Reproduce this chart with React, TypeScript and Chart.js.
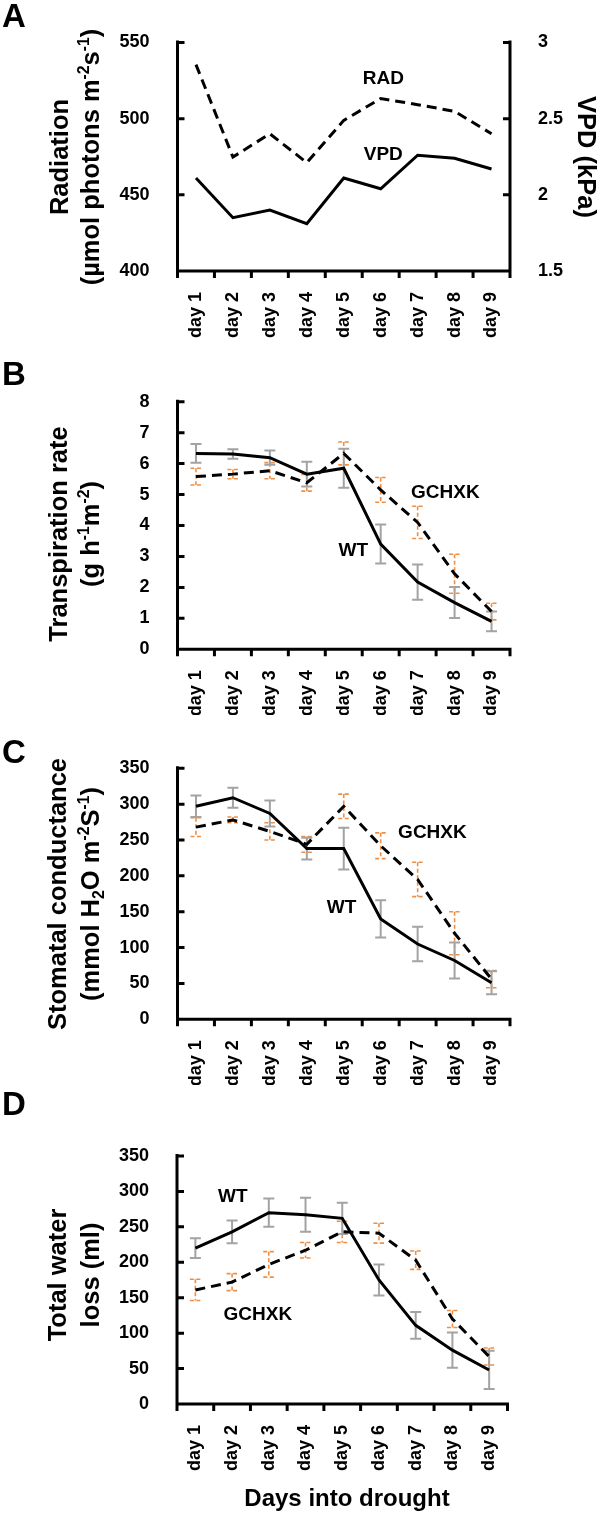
import React, { useEffect, useRef } from 'react';
import { Chart, registerables } from 'chart.js';

Chart.register(...registerables);

const FONT = '"Liberation Sans", Arial, Helvetica, sans-serif';

// ---- categories ----
const days = ['day 1', 'day 2', 'day 3', 'day 4', 'day 5', 'day 6', 'day 7', 'day 8', 'day 9'];

// ---- Panel A ----
const radiation = [535.5, 474.8, 490.1, 471.1, 498.9, 513.2, 509.2, 504.8, 490.1];
const vpd = [2.11, 1.85, 1.9, 1.81, 2.11, 2.04, 2.26, 2.24, 2.17];
const radTicks = [400, 450, 500, 550];
const vpdTicks = [1.5, 2, 2.5, 3];

// ---- Panel B ----
const transWT = [6.33, 6.31, 6.19, 5.66, 5.85, 3.4, 2.17, 1.51, 0.9];
const transWTErr = [0.3, 0.15, 0.23, 0.4, 0.63, 0.63, 0.57, 0.5, 0.32];
const transGX = [5.58, 5.66, 5.77, 5.38, 6.33, 5.15, 4.1, 2.44, 1.22];
const transGXErr = [0.27, 0.15, 0.26, 0.27, 0.37, 0.4, 0.52, 0.63, 0.27];
const transTicks = [0, 1, 2, 3, 4, 5, 6, 7, 8];

// ---- Panel C ----
const condWT = [297, 309, 287, 238, 238, 140, 105, 82, 51];
const condWTErr = [15, 14, 18, 15, 29, 26, 24, 25, 16];
const condGX = [268, 278, 262, 244, 297, 242, 195, 120, 56];
const condGXErr = [13, 4, 12, 11, 17, 18, 24, 30, 12];
const condTicks = [0, 50, 100, 150, 200, 250, 300, 350];

// ---- Panel D ----
const lossWT = [220, 243, 270, 267, 262, 175, 111, 76, 48];
const lossWTErr = [14, 16, 20, 24, 22, 22, 19, 25, 27];
const lossGX = [161, 172, 197, 217, 243, 241, 203, 120, 67];
const lossGXErr = [15, 12, 18, 11, 15, 14, 13, 12, 12];
const lossTicks = [0, 50, 100, 150, 200, 250, 300, 350];

type Seg = { t: string; s?: 'sup' | 'sub' };
type Series = { data: number[]; err?: number[]; dashed: boolean; axis: string };
type Label = { text: string; x: number; y: number; axis: string };
type Title = { segs: Seg[]; x: number; y: number; rot: number; size: number };
type Axis = { min: number; max: number; ticks: number[] };
type Panel = {
  top: number;
  height: number;
  plotTop: number;
  plotBottom: number;
  plotLeft: number;
  plotRight: number;
  letter: string;
  letterY: number;
  series: Series[];
  labels: Label[];
  titles: Title[];
  yLeft: Axis;
  yRight?: Axis;
};

const TS = 25.5;
const UP = -Math.PI / 2;

const panels: Panel[] = [
  {
    top: 0,
    height: 340,
    plotTop: 42.5,
    plotBottom: 271,
    plotLeft: 177.5,
    plotRight: 510,
    letter: 'A',
    letterY: 27,
    series: [
      { data: radiation, dashed: true, axis: 'y' },
      { data: vpd, dashed: false, axis: 'y1' },
    ],
    labels: [
      { text: 'RAD', x: 5.07, y: 526, axis: 'y' },
      { text: 'VPD', x: 5.07, y: 476, axis: 'y' },
    ],
    titles: [
      { segs: [{ t: 'Radiation' }], x: 59, y: 157, rot: UP, size: TS },
      {
        segs: [{ t: '(µmol photons m' }, { t: '-2', s: 'sup' }, { t: 's' }, { t: '-1', s: 'sup' }, { t: ')' }],
        x: 90,
        y: 157,
        rot: UP,
        size: TS,
      },
      { segs: [{ t: 'VPD (kPa)' }], x: 587, y: 157, rot: Math.PI / 2, size: TS },
    ],
    yLeft: { min: 400, max: 550, ticks: radTicks },
    yRight: { min: 1.5, max: 3, ticks: vpdTicks },
  },
  {
    top: 340,
    height: 375,
    plotTop: 401.7,
    plotBottom: 649.3,
    plotLeft: 177.5,
    plotRight: 510,
    letter: 'B',
    letterY: 385,
    series: [
      { data: transGX, err: transGXErr, dashed: true, axis: 'y' },
      { data: transWT, err: transWTErr, dashed: false, axis: 'y' },
    ],
    labels: [
      { text: 'GCHXK', x: 6.75, y: 5.05, axis: 'y' },
      { text: 'WT', x: 4.26, y: 3.18, axis: 'y' },
    ],
    titles: [
      { segs: [{ t: 'Transpiration rate' }], x: 58, y: 534, rot: UP, size: TS },
      {
        segs: [{ t: '(g h' }, { t: '-1', s: 'sup' }, { t: 'm' }, { t: '-2', s: 'sup' }, { t: ')' }],
        x: 90,
        y: 534,
        rot: UP,
        size: TS,
      },
    ],
    yLeft: { min: 0, max: 8, ticks: transTicks },
  },
  {
    top: 715,
    height: 370,
    plotTop: 768.3,
    plotBottom: 1019.3,
    plotLeft: 177.5,
    plotRight: 510,
    letter: 'C',
    letterY: 763,
    series: [
      { data: condGX, err: condGXErr, dashed: true, axis: 'y' },
      { data: condWT, err: condWTErr, dashed: false, axis: 'y' },
    ],
    labels: [
      { text: 'GCHXK', x: 6.4, y: 259.8, axis: 'y' },
      { text: 'WT', x: 3.94, y: 155, axis: 'y' },
    ],
    titles: [
      { segs: [{ t: 'Stomatal conductance' }], x: 57, y: 894, rot: UP, size: TS },
      {
        segs: [
          { t: '(mmol H' },
          { t: '2', s: 'sub' },
          { t: 'O m' },
          { t: '-2', s: 'sup' },
          { t: 'S' },
          { t: '-1', s: 'sup' },
          { t: ')' },
        ],
        x: 90,
        y: 894,
        rot: UP,
        size: TS,
      },
    ],
    yLeft: { min: 0, max: 350, ticks: condTicks },
  },
  {
    top: 1085,
    height: 428,
    plotTop: 1156,
    plotBottom: 1404,
    plotLeft: 177,
    plotRight: 507.5,
    letter: 'D',
    letterY: 1115,
    series: [
      { data: lossGX, err: lossGXErr, dashed: true, axis: 'y' },
      { data: lossWT, err: lossWTErr, dashed: false, axis: 'y' },
    ],
    labels: [
      { text: 'WT', x: 1.02, y: 292, axis: 'y' },
      { text: 'GCHXK', x: 1.7, y: 125.7, axis: 'y' },
    ],
    titles: [
      { segs: [{ t: 'Total water' }], x: 57, y: 1275, rot: UP, size: TS },
      { segs: [{ t: 'loss (ml)' }], x: 90, y: 1275, rot: UP, size: TS },
      { segs: [{ t: 'Days into drought' }], x: 347, y: 1497, rot: 0, size: 24 },
    ],
    yLeft: { min: 0, max: 350, ticks: lossTicks },
  },
];

function drawRich(ctx: CanvasRenderingContext2D, t: Title, offsetY: number) {
  const main = `bold ${t.size}px ${FONT}`;
  const small = `bold ${t.size * 0.62}px ${FONT}`;
  ctx.save();
  ctx.translate(t.x, t.y - offsetY);
  ctx.rotate(t.rot);
  ctx.textAlign = 'left';
  ctx.textBaseline = 'alphabetic';
  ctx.fillStyle = '#000';
  let total = 0;
  const widths = t.segs.map((s) => {
    ctx.font = s.s ? small : main;
    const w = ctx.measureText(s.t).width;
    total += w;
    return w;
  });
  let x = -total / 2;
  const base = t.size * 0.36;
  t.segs.forEach((s, i) => {
    ctx.font = s.s ? small : main;
    let y = base;
    if (s.s === 'sup') y -= t.size * 0.38;
    if (s.s === 'sub') y += t.size * 0.2;
    ctx.fillText(s.t, x, y);
    x += widths[i];
  });
  ctx.restore();
}

const tickFont = { family: FONT, size: 18, weight: 'bold' as const };

function yAxisOptions(a: Axis, position: 'left' | 'right', width: number) {
  return {
    type: 'linear' as const,
    position,
    min: a.min,
    max: a.max,
    afterBuildTicks: (s: any) => {
      s.ticks = a.ticks.map((v) => ({ value: v }));
    },
    grid: { display: false },
    border: { display: false },
    ticks: {
      padding: 20,
      color: '#000',
      font: tickFont,
      callback: (v: any) => String(v),
    },
    afterFit: (s: any) => {
      s.width = width;
    },
  };
}

function PanelChart({ p }: { p: Panel }) {
  const ref = useRef<HTMLCanvasElement>(null);
  useEffect(() => {
    const canvas = ref.current;
    if (!canvas) return;
    const xHeight = p.height - (p.plotBottom - p.top);
    const overlay = {
      id: 'overlay',
      beforeDatasetsDraw(chart: any) {
        const ctx = chart.ctx as CanvasRenderingContext2D;
        const xs = chart.scales.x;
        p.series.forEach((s) => {
          if (!s.err) return;
          const ys = chart.scales[s.axis];
          ctx.save();
          ctx.strokeStyle = s.dashed ? '#EE8F45' : '#A3A3A3';
          ctx.lineWidth = s.dashed ? 1.6 : 2;
          ctx.setLineDash(s.dashed ? [4, 2.5] : []);
          s.data.forEach((v, i) => {
            const e = s.err![i];
            const x = xs.getPixelForValue(i);
            const y1 = ys.getPixelForValue(v + e);
            const y2 = ys.getPixelForValue(v - e);
            ctx.beginPath();
            ctx.moveTo(x, y1);
            ctx.lineTo(x, y2);
            ctx.moveTo(x - 5.5, y1);
            ctx.lineTo(x + 5.5, y1);
            ctx.moveTo(x - 5.5, y2);
            ctx.lineTo(x + 5.5, y2);
            ctx.stroke();
          });
          ctx.restore();
        });
      },
      afterDraw(chart: any) {
        const ctx = chart.ctx as CanvasRenderingContext2D;
        const area = chart.chartArea;
        const xs = chart.scales.x;
        ctx.save();
        ctx.strokeStyle = '#000';
        ctx.lineWidth = 3;
        ctx.lineCap = 'butt';
        ctx.beginPath();
        // axis lines
        ctx.moveTo(area.left, area.top - 2);
        ctx.lineTo(area.left, area.bottom + 1.5);
        ctx.moveTo(area.left - 1.5, area.bottom);
        ctx.lineTo(area.right + 1.5, area.bottom);
        if (chart.scales.y1) {
          ctx.moveTo(area.right, area.top - 2);
          ctx.lineTo(area.right, area.bottom + 1.5);
        }
        // inward y ticks
        ['y', 'y1'].forEach((id) => {
          const sc = chart.scales[id];
          if (!sc) return;
          const x0 = id === 'y' ? area.left : area.right;
          const dir = id === 'y' ? 1 : -1;
          sc.ticks.forEach((t: any) => {
            const y = sc.getPixelForValue(t.value);
            ctx.moveTo(x0, y);
            ctx.lineTo(x0 + dir * 7, y);
          });
        });
        // x ticks at category boundaries (outward)
        for (let i = 0; i <= days.length; i++) {
          const x = xs.getPixelForValue(i - 0.5);
          ctx.moveTo(x, area.bottom);
          ctx.lineTo(x, area.bottom + 7);
        }
        ctx.stroke();
        ctx.restore();

        // series labels
        ctx.save();
        ctx.fillStyle = '#000';
        ctx.font = `bold 19px ${FONT}`;
        ctx.textAlign = 'center';
        ctx.textBaseline = 'middle';
        p.labels.forEach((l) => {
          const x = xs.getPixelForValue(l.x);
          const y = chart.scales[l.axis].getPixelForValue(l.y);
          ctx.fillText(l.text, x, y);
        });
        ctx.restore();

        // titles
        p.titles.forEach((t) => drawRich(ctx, t, p.top));

        // panel letter
        ctx.save();
        ctx.fillStyle = '#000';
        ctx.font = `bold 33px ${FONT}`;
        ctx.textAlign = 'left';
        ctx.textBaseline = 'alphabetic';
        ctx.fillText(p.letter, 2, p.letterY - p.top);
        ctx.restore();
      },
    };

    const scales: any = {
      x: {
        type: 'category',
        offset: true,
        grid: { display: false },
        border: { display: false },
        ticks: {
          autoSkip: false,
          maxRotation: 90,
          minRotation: 90,
          padding: 13,
          color: '#000',
          font: tickFont,
        },
        afterFit: (s: any) => {
          s.height = xHeight;
        },
      },
      y: yAxisOptions(p.yLeft, 'left', p.plotLeft),
    };
    if (p.yRight) scales.y1 = yAxisOptions(p.yRight, 'right', 602 - p.plotRight);

    const chart = new Chart(canvas, {
      type: 'line',
      data: {
        labels: days,
        datasets: p.series.map((s) => ({
          data: s.data,
          yAxisID: s.axis,
          borderColor: '#000',
          borderWidth: 3,
          borderDash: s.dashed ? [10, 6] : [],
          pointRadius: 0,
          fill: false,
          tension: 0,
          borderJoinStyle: 'miter' as const,
        })),
      },
      options: {
        responsive: false,
        maintainAspectRatio: false,
        animation: false,
        devicePixelRatio: 1,
        layout: {
          padding: {
            top: p.plotTop - p.top,
            bottom: 0,
            left: 0,
            right: p.yRight ? 0 : 602 - p.plotRight,
          },
        },
        plugins: { legend: { display: false }, tooltip: { enabled: false }, title: { display: false } },
        scales,
      },
      plugins: [overlay],
    });
    return () => chart.destroy();
  }, [p]);
  return (
    <canvas
      ref={ref}
      width={602}
      height={p.height}
      style={{ position: 'absolute', left: 0, top: p.top, width: 602, height: p.height, display: 'block' }}
    />
  );
}

export default function App() {
  return (
    <div style={{ position: 'absolute', left: 0, top: 0, width: 602, height: 1513, background: '#fff' }}>
      {panels.map((p, i) => (
        <PanelChart key={i} p={p} />
      ))}
    </div>
  );
}
